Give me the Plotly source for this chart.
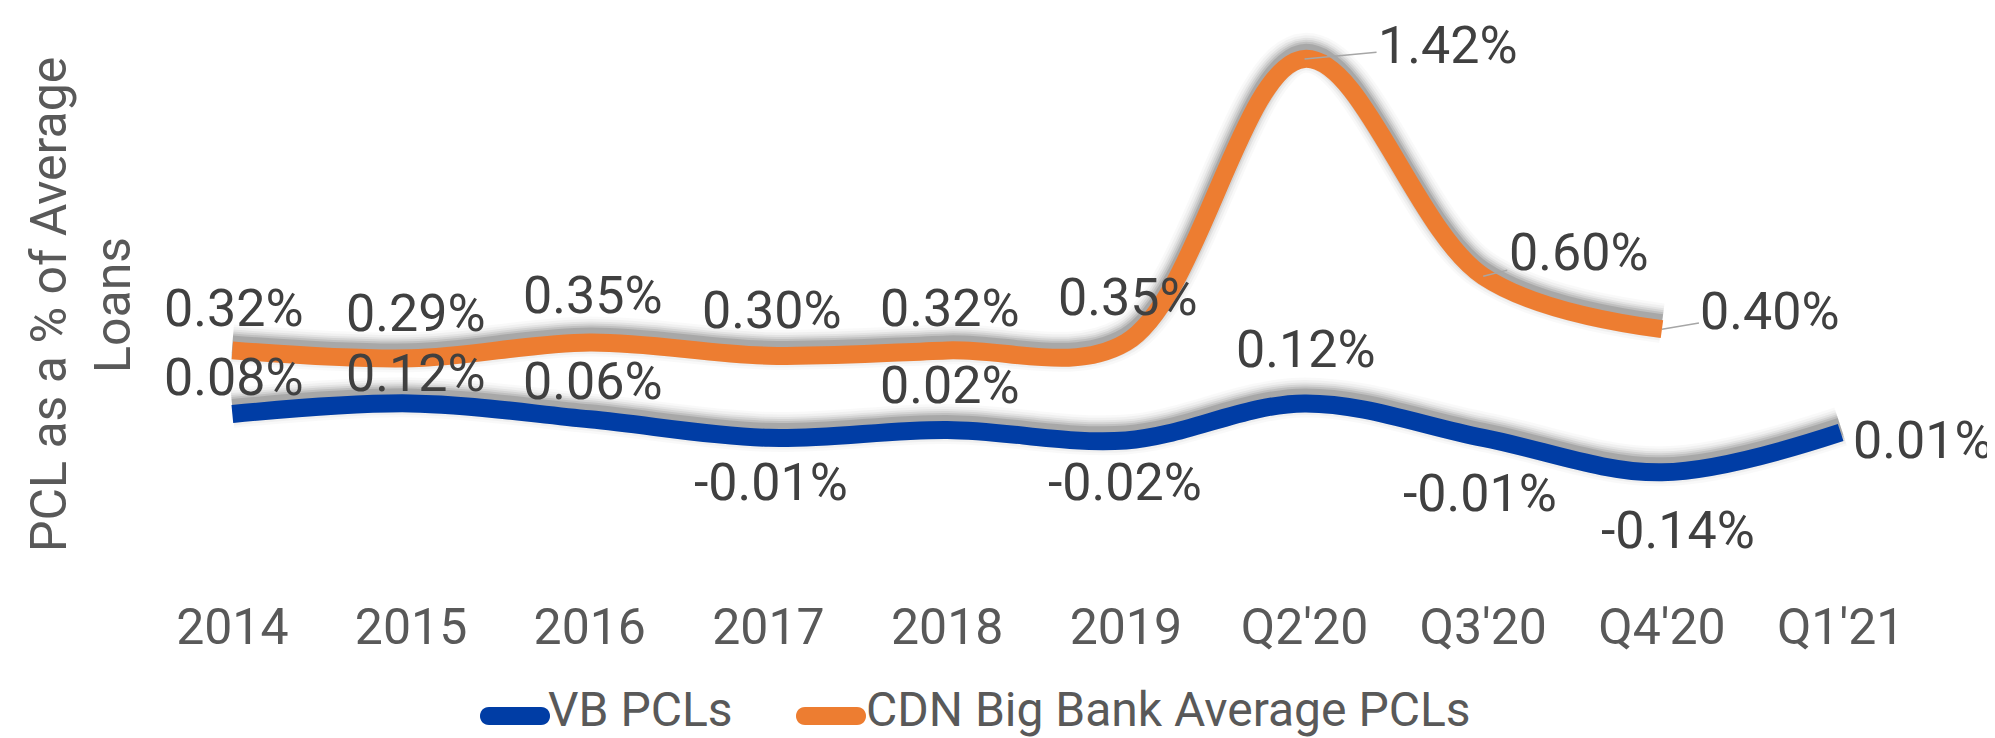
import plotly.graph_objects as go

# ---------------- data ----------------
categories = ["2014", "2015", "2016", "2017", "2018", "2019", "Q2'20", "Q3'20", "Q4'20", "Q1'21"]
vb_pcls = [0.08, 0.12, 0.06, -0.01, 0.02, -0.02, 0.12, -0.01, -0.14, 0.01]
cdn_pcls = [0.32, 0.29, 0.35, 0.30, 0.32, 0.35, 1.42, 0.60, 0.40]
series_names = ["VB PCLs", "CDN Big Bank Average PCLs"]
y_title_lines = ["PCL as a % of Average", "Loans"]

# ---------------- styles ----------------
BLUE = "#003DA5"
ORANGE = "#ED7D31"
TICK_COLOR = "#595959"
LABEL_COLOR = "#404040"
FONT = "Roboto, sans-serif"
LINE_W = 18

# label offsets (pixels): (xshift, yshift) for plain labels; (ax, ay) for leader-line labels
vb_offsets = [(1, 37), (4, 30), (3, 38), (3, -45), (2, 44), (-1, -42), (1, 54), (-3, -56), (16, -58), (82, -8)]
cdn_offsets = [(1, 42), (4, 45), (3, 47), (3, 45), (2, 42), (2, 45), None, None, None]
cdn_leaders = {6: (143, -13), 7: (95, -24), 8: (108, -18)}

PX_PER_UNIT = 265.0
shadow_shift = 6 / PX_PER_UNIT

W, H = 1995, 738
ML, MR, MT, MB = 135, 73, 14, 146
PLOT_W = W - ML - MR
PLOT_H = H - MT - MB
zero_px = 427.2


def px_to_paper(px, py):
    return (px - ML) / PLOT_W, (MT + PLOT_H - py) / PLOT_H


fig = go.Figure()

# soft shadows (drawn behind the lines)
for vals, n in [(vb_pcls, len(vb_pcls)), (cdn_pcls, len(cdn_pcls))]:
    shifted = [v + shadow_shift for v in vals]
    for extra, a in [(22, 0.025), (17, 0.035), (12, 0.05), (8, 0.07), (4, 0.09), (0, 0.12)]:
        fig.add_trace(go.Scatter(
            x=categories[:n], y=shifted, mode="lines",
            line=dict(color=f"rgba(0,0,0,{a})", width=LINE_W + extra, shape="spline", smoothing=1),
            showlegend=False, hoverinfo="skip"))

fig.add_trace(go.Scatter(
    x=categories, y=vb_pcls, mode="lines", name=series_names[0],
    line=dict(color=BLUE, width=LINE_W, shape="spline", smoothing=1)))
fig.add_trace(go.Scatter(
    x=categories[:len(cdn_pcls)], y=cdn_pcls, mode="lines", name=series_names[1],
    line=dict(color=ORANGE, width=LINE_W, shape="spline", smoothing=1)))

label_font = dict(family=FONT, size=52, color=LABEL_COLOR)

for i, v in enumerate(vb_pcls):
    xs, ys = vb_offsets[i]
    fig.add_annotation(x=i, y=v, xref="x", yref="y", text=f"{v:.2f}%", showarrow=False,
                       xshift=xs, yshift=ys, font=label_font)

for i, v in enumerate(cdn_pcls):
    if i in cdn_leaders:
        ax, ay = cdn_leaders[i]
        fig.add_annotation(x=i, y=v, xref="x", yref="y", text=f"{v:.2f}%", showarrow=True,
                           arrowhead=0, arrowwidth=1.5, arrowcolor="#A6A6A6",
                           ax=ax, ay=ay, standoff=0, font=label_font)
    else:
        xs, ys = cdn_offsets[i]
        fig.add_annotation(x=i, y=v, xref="x", yref="y", text=f"{v:.2f}%", showarrow=False,
                           xshift=xs, yshift=ys, font=label_font)

# axis title (two rotated lines)
for line_txt, cx in zip(y_title_lines, [41, 105]):
    px_, py_ = px_to_paper(cx, 297)
    fig.add_annotation(xref="paper", yref="paper", x=px_, y=py_, text=line_txt,
                       textangle=-90, showarrow=False, xanchor="center", yanchor="middle",
                       font=dict(family=FONT, size=50, color=TICK_COLOR))

# custom legend (rounded thick line markers + text)
leg_items = [(series_names[0], BLUE, 507, 538), (series_names[1], ORANGE, 823, 856)]
half, r = 26, 9
k = r * 4 / 3
marker_path = (f"M{-half},{-r} L{half},{-r} C{half + k},{-r} {half + k},{r} {half},{r} "
               f"L{-half},{r} C{-half - k},{r} {-half - k},{-r} {-half},{-r} Z")
for name, col, mx, tx in leg_items:
    ax_, ay_ = px_to_paper(mx, 708)
    fig.add_shape(type="path", xref="paper", yref="paper", xsizemode="pixel", ysizemode="pixel",
                  xanchor=ax_, yanchor=ay_, path=marker_path,
                  fillcolor=col, line=dict(width=0), layer="above")
    tx_, ty_ = px_to_paper(tx, 701)
    fig.add_annotation(xref="paper", yref="paper", x=tx_, y=ty_, text=name, showarrow=False,
                       xanchor="left", yanchor="middle",
                       font=dict(family=FONT, size=48, color=TICK_COLOR))

y_top = (zero_px - MT) / PX_PER_UNIT
y_bot = -((MT + PLOT_H) - zero_px) / PX_PER_UNIT

fig.update_layout(
    width=W, height=H,
    margin=dict(l=ML, r=MR, t=MT, b=MB),
    paper_bgcolor="white", plot_bgcolor="white",
    showlegend=False,
    xaxis=dict(type="category", range=[-0.5, len(categories) - 0.5],
               showgrid=False, zeroline=False, showline=False, ticks="",
               ticklabelstandoff=-7,
               tickfont=dict(family=FONT, size=50, color=TICK_COLOR)),
    yaxis=dict(range=[y_bot, y_top], showgrid=False, zeroline=False,
               showline=False, showticklabels=False, ticks=""),
)

fig.write_html("out.html")
